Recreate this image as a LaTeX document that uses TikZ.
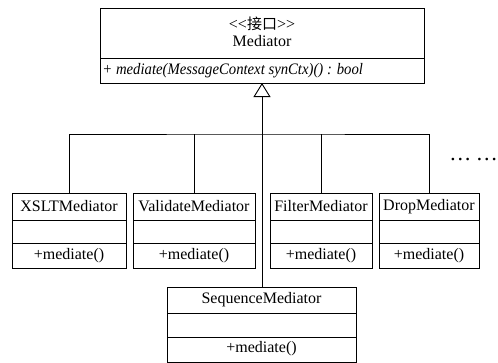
\documentclass[tikz,border=0pt]{standalone}
\usepackage{fontspec}
\setmainfont{Liberation Serif}
\newfontfamily\cjk{Noto Sans CJK SC}
\usetikzlibrary{arrows.meta}
\begin{document}
\begin{tikzpicture}[x=1pt,y=-1pt,
  line width=0.9pt,
  classbox/.style={draw,rectangle,inner sep=0pt,outer sep=0pt,anchor=north west},
  txt/.style={inner sep=0pt,font=\fontsize{16}{18}\selectfont},
  conn/.style={line width=0.9pt},
  gen/.style={line width=0.9pt,-{Triangle[open,length=14pt,width=17pt]}}]
\useasboundingbox (0,0) rectangle (498,362);

% Mediator interface
\node[classbox,minimum width=324pt,minimum height=75pt] (med) at (100,8) {};
\draw (100,58) -- (424,58);
\node[txt] (medst) at (262,24) {<{}<{\cjk\fontsize{15}{17}\selectfont 接口}>{}>};
\node[txt] (medname) at (262,41) {Mediator};
\node[txt,anchor=west] (medop) at (102,71) {\scalebox{0.92}[1]{\itshape + mediate(MessageContext synCtx)() : bool}};

% small classes
\node[classbox,minimum width=114pt,minimum height=75pt] (xslt) at (12,193) {};
\node[classbox,minimum width=122pt,minimum height=75pt] (valid) at (133,193) {};
\node[classbox,minimum width=102pt,minimum height=75pt] (filter) at (270,193) {};
\node[classbox,minimum width=100pt,minimum height=75pt] (drop) at (379,193) {};
\draw (12,220) -- (126,220) (12,243) -- (126,243);
\draw (133,220) -- (255,220) (133,243) -- (255,243);
\draw (270,220) -- (372,220) (270,243) -- (372,243);
\draw (379,220) -- (479,220) (379,243) -- (479,243);

\node[txt] (xsltn) at (69,206.5) {XSLTMediator};
\node[txt] (xsltm) at (69,255.5) {+mediate()};
\node[txt] (validn) at (194,206.5) {ValidateMediator};
\node[txt] (validm) at (194,255.5) {+mediate()};
\node[txt] (filtern) at (321,206.5) {FilterMediator};
\node[txt] (filterm) at (321,255.5) {+mediate()};
\node[txt] (dropn) at (429,206.5) {DropMediator};
\node[txt] (dropm) at (429,255.5) {+mediate()};

% Sequence mediator
\node[classbox,minimum width=189pt,minimum height=75pt] (seq) at (167,287) {};
\draw (167,313) -- (356,313) (167,337) -- (356,337);
\node[txt] (seqn) at (261.5,300) {SequenceMediator};
\node[txt] (seqm) at (261.5,349) {+mediate()};

% connectors
\coordinate (bus) at (262,134);
\draw[conn] (xslt.north) |- (bus) -| (drop.north);
\draw[conn] (valid.north) -- (valid.north |- bus);
\draw[conn] (filter.north) -- (filter.north |- bus);
\draw[gen] (seq.north -| med.south) -- (med.south);

% ellipsis
\node[inner sep=0pt,anchor=west,font=\fontsize{22}{24}\selectfont] (more) at (449,160) {…\hspace{4.5pt}…};
\end{tikzpicture}
\end{document}
